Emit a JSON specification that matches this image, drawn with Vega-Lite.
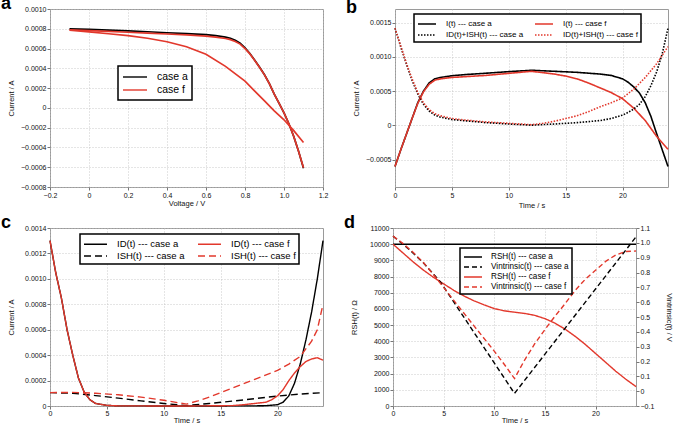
{
"$schema": "https://vega.github.io/schema/vega-lite/v6.json",
"padding": {"left": 0, "top": -6, "right": 0, "bottom": 0},
"background": "white",
"config": {
 "font": "Liberation Sans",
 "view": {"stroke": "#9a9a9a", "strokeWidth": 1},
 "axis": {"labelFont": "Liberation Sans", "titleFont": "Liberation Sans", "labelFontSize": 7, "titleFontSize": 7.5, "titleFontWeight": "normal", "tickSize": 3, "tickColor": "#777", "domain": false, "grid": true, "gridColor": "#bdbdbd", "gridDash": [1, 2], "gridWidth": 0.8, "labelColor": "#111", "titleColor": "#111", "labelPadding": 1, "labelFlush": false, "labelOverlap": false},
 "title": {"font": "Liberation Sans", "fontSize": 18, "fontWeight": "bold", "anchor": "start", "frame": "bounds", "baseline": "alphabetic", "offset": -8, "dx": -6, "color": "#000"},
 "legend": {"strokeColor": "#000", "strokeWidth": 1.5, "fillColor": "white", "padding": 4, "symbolStrokeWidth": 2, "labelFont": "Liberation Sans", "labelColor": "#000", "rowPadding": 1},
 "line": {"strokeWidth": 1.4}
},
"resolve": {"scale": {"color": "independent", "strokeDash": "independent", "x": "independent", "y": "independent"}, "legend": {"color": "independent", "strokeDash": "independent"}},
"spacing": 4,
"vconcat": [
{
 "spacing": 16,
 "resolve": {"scale": {"color": "independent", "strokeDash": "independent", "x": "independent", "y": "independent"}, "legend": {"color": "independent", "strokeDash": "independent"}},
 "hconcat": [
 {
  "title": "a",
  "width": 273, "height": 178,
  "data": {"values": [
   {"v": -0.1, "i": 0.000800, "s": "case a", "c": "a1"},
   {"v": 0.0, "i": 0.000793, "s": "case a", "c": "a1"},
   {"v": 0.1, "i": 0.000786, "s": "case a", "c": "a1"},
   {"v": 0.2, "i": 0.000778, "s": "case a", "c": "a1"},
   {"v": 0.3, "i": 0.000770, "s": "case a", "c": "a1"},
   {"v": 0.4, "i": 0.000760, "s": "case a", "c": "a1"},
   {"v": 0.5, "i": 0.000751, "s": "case a", "c": "a1"},
   {"v": 0.6, "i": 0.000740, "s": "case a", "c": "a1"},
   {"v": 0.65, "i": 0.000730, "s": "case a", "c": "a1"},
   {"v": 0.7, "i": 0.000716, "s": "case a", "c": "a1"},
   {"v": 0.725, "i": 0.000704, "s": "case a", "c": "a1"},
   {"v": 0.75, "i": 0.000685, "s": "case a", "c": "a1"},
   {"v": 0.775, "i": 0.000655, "s": "case a", "c": "a1"},
   {"v": 0.8, "i": 0.000608, "s": "case a", "c": "a1"},
   {"v": 0.825, "i": 0.000550, "s": "case a", "c": "a1"},
   {"v": 0.85, "i": 0.000482, "s": "case a", "c": "a1"},
   {"v": 0.875, "i": 0.000410, "s": "case a", "c": "a1"},
   {"v": 0.9, "i": 0.000335, "s": "case a", "c": "a1"},
   {"v": 0.925, "i": 0.000245, "s": "case a", "c": "a1"},
   {"v": 0.95, "i": 0.000140, "s": "case a", "c": "a1"},
   {"v": 0.975, "i": 0.000045, "s": "case a", "c": "a1"},
   {"v": 1.0, "i": -0.000050, "s": "case a", "c": "a1"},
   {"v": 1.025, "i": -0.000160, "s": "case a", "c": "a1"},
   {"v": 1.05, "i": -0.000290, "s": "case a", "c": "a1"},
   {"v": 1.075, "i": -0.000440, "s": "case a", "c": "a1"},
   {"v": 1.1, "i": -0.000610, "s": "case a", "c": "a1"},
   {"v": -0.1, "i": 0.000790, "s": "case f", "c": "f1"},
   {"v": 0.0, "i": 0.000781, "s": "case f", "c": "f1"},
   {"v": 0.1, "i": 0.000773, "s": "case f", "c": "f1"},
   {"v": 0.2, "i": 0.000765, "s": "case f", "c": "f1"},
   {"v": 0.3, "i": 0.000756, "s": "case f", "c": "f1"},
   {"v": 0.4, "i": 0.000747, "s": "case f", "c": "f1"},
   {"v": 0.5, "i": 0.000738, "s": "case f", "c": "f1"},
   {"v": 0.6, "i": 0.000726, "s": "case f", "c": "f1"},
   {"v": 0.65, "i": 0.000716, "s": "case f", "c": "f1"},
   {"v": 0.7, "i": 0.000702, "s": "case f", "c": "f1"},
   {"v": 0.725, "i": 0.000690, "s": "case f", "c": "f1"},
   {"v": 0.75, "i": 0.000672, "s": "case f", "c": "f1"},
   {"v": 0.775, "i": 0.000645, "s": "case f", "c": "f1"},
   {"v": 0.8, "i": 0.000600, "s": "case f", "c": "f1"},
   {"v": 0.825, "i": 0.000546, "s": "case f", "c": "f1"},
   {"v": 0.85, "i": 0.000480, "s": "case f", "c": "f1"},
   {"v": 0.875, "i": 0.000409, "s": "case f", "c": "f1"},
   {"v": 0.9, "i": 0.000334, "s": "case f", "c": "f1"},
   {"v": 0.925, "i": 0.000244, "s": "case f", "c": "f1"},
   {"v": 0.95, "i": 0.000140, "s": "case f", "c": "f1"},
   {"v": 0.975, "i": 0.000045, "s": "case f", "c": "f1"},
   {"v": 1.0, "i": -0.000050, "s": "case f", "c": "f1"},
   {"v": 1.025, "i": -0.000160, "s": "case f", "c": "f1"},
   {"v": 1.05, "i": -0.000290, "s": "case f", "c": "f1"},
   {"v": 1.075, "i": -0.000440, "s": "case f", "c": "f1"},
   {"v": 1.1, "i": -0.000605, "s": "case f", "c": "f1"},
   {"v": -0.1, "i": 0.000785, "s": "case f", "c": "f2"},
   {"v": 0.0, "i": 0.000768, "s": "case f", "c": "f2"},
   {"v": 0.1, "i": 0.000750, "s": "case f", "c": "f2"},
   {"v": 0.2, "i": 0.000731, "s": "case f", "c": "f2"},
   {"v": 0.3, "i": 0.000704, "s": "case f", "c": "f2"},
   {"v": 0.4, "i": 0.000669, "s": "case f", "c": "f2"},
   {"v": 0.5, "i": 0.000618, "s": "case f", "c": "f2"},
   {"v": 0.6, "i": 0.000542, "s": "case f", "c": "f2"},
   {"v": 0.7, "i": 0.000420, "s": "case f", "c": "f2"},
   {"v": 0.8, "i": 0.000270, "s": "case f", "c": "f2"},
   {"v": 0.85, "i": 0.000170, "s": "case f", "c": "f2"},
   {"v": 0.9, "i": 0.000070, "s": "case f", "c": "f2"},
   {"v": 0.95, "i": -0.000030, "s": "case f", "c": "f2"},
   {"v": 1.0, "i": -0.000120, "s": "case f", "c": "f2"},
   {"v": 1.05, "i": -0.000230, "s": "case f", "c": "f2"},
   {"v": 1.1, "i": -0.000350, "s": "case f", "c": "f2"}
  ]},
  "mark": {"type": "line", "strokeWidth": 1.7},
  "encoding": {
   "x": {"field": "v", "type": "quantitative", "scale": {"domain": [-0.2, 1.2], "nice": false, "zero": false}, "axis": {"title": "Voltage / V", "values": [-0.2, 0, 0.2, 0.4, 0.6, 0.8, 1.0, 1.2], "labelExpr": "abs(datum.value) < 1e-9 ? '0' : format(datum.value, '.1f')", "titlePadding": 1}},
   "y": {"field": "i", "type": "quantitative", "scale": {"domain": [-0.0008, 0.001], "nice": false, "zero": false}, "axis": {"title": "Current / A", "values": [-0.0008, -0.0006, -0.0004, -0.0002, 0, 0.0002, 0.0004, 0.0006, 0.0008, 0.001], "labelExpr": "abs(datum.value) < 1e-12 ? '0' : format(datum.value, '.4f')", "minExtent": 30, "maxExtent": 30, "titlePadding": 5}},
   "detail": {"field": "c"},
   "color": {"field": "s", "type": "nominal", "scale": {"domain": ["case a", "case f"], "range": ["#000000", "#e2382c"]}, "legend": {"title": null, "orient": "none", "legendX": 68, "legendY": 57, "labelFontSize": 10.5, "symbolType": "M-1,0H3", "symbolSize": 144, "symbolStrokeWidth": 2.5, "labelOffset": 21, "padding": 4, "rowPadding": 0}}
  }
 },
 {
  "title": "b",
  "width": 273, "height": 178,
  "data": {"values": [
   {"t": 0, "v": -0.0006, "s": "I(t) --- case a"},
   {"t": 0.5, "v": -0.00036, "s": "I(t) --- case a"},
   {"t": 1, "v": -0.00013, "s": "I(t) --- case a"},
   {"t": 1.5, "v": 0.0001, "s": "I(t) --- case a"},
   {"t": 2, "v": 0.00033, "s": "I(t) --- case a"},
   {"t": 2.5, "v": 0.0005, "s": "I(t) --- case a"},
   {"t": 3, "v": 0.00062, "s": "I(t) --- case a"},
   {"t": 3.5, "v": 0.00068, "s": "I(t) --- case a"},
   {"t": 4, "v": 0.0007, "s": "I(t) --- case a"},
   {"t": 5, "v": 0.000725, "s": "I(t) --- case a"},
   {"t": 6, "v": 0.00074, "s": "I(t) --- case a"},
   {"t": 8, "v": 0.000762, "s": "I(t) --- case a"},
   {"t": 10, "v": 0.000785, "s": "I(t) --- case a"},
   {"t": 12, "v": 0.000805, "s": "I(t) --- case a"},
   {"t": 14, "v": 0.00079, "s": "I(t) --- case a"},
   {"t": 16, "v": 0.000775, "s": "I(t) --- case a"},
   {"t": 18, "v": 0.00075, "s": "I(t) --- case a"},
   {"t": 19, "v": 0.00073, "s": "I(t) --- case a"},
   {"t": 20, "v": 0.00068, "s": "I(t) --- case a"},
   {"t": 20.5, "v": 0.00063, "s": "I(t) --- case a"},
   {"t": 21, "v": 0.00056, "s": "I(t) --- case a"},
   {"t": 21.5, "v": 0.00047, "s": "I(t) --- case a"},
   {"t": 22, "v": 0.00033, "s": "I(t) --- case a"},
   {"t": 22.5, "v": 0.00013, "s": "I(t) --- case a"},
   {"t": 23, "v": -0.00012, "s": "I(t) --- case a"},
   {"t": 23.5, "v": -0.00036, "s": "I(t) --- case a"},
   {"t": 24, "v": -0.0006, "s": "I(t) --- case a"},
   {"t": 0, "v": -0.0006, "s": "I(t) --- case f"},
   {"t": 0.5, "v": -0.00036, "s": "I(t) --- case f"},
   {"t": 1, "v": -0.00013, "s": "I(t) --- case f"},
   {"t": 1.5, "v": 0.0001, "s": "I(t) --- case f"},
   {"t": 2, "v": 0.00032, "s": "I(t) --- case f"},
   {"t": 2.5, "v": 0.00049, "s": "I(t) --- case f"},
   {"t": 3, "v": 0.0006, "s": "I(t) --- case f"},
   {"t": 3.5, "v": 0.00066, "s": "I(t) --- case f"},
   {"t": 4, "v": 0.00068, "s": "I(t) --- case f"},
   {"t": 5, "v": 0.0007, "s": "I(t) --- case f"},
   {"t": 6, "v": 0.00071, "s": "I(t) --- case f"},
   {"t": 8, "v": 0.00073, "s": "I(t) --- case f"},
   {"t": 10, "v": 0.00076, "s": "I(t) --- case f"},
   {"t": 12, "v": 0.00079, "s": "I(t) --- case f"},
   {"t": 13, "v": 0.00077, "s": "I(t) --- case f"},
   {"t": 14, "v": 0.00075, "s": "I(t) --- case f"},
   {"t": 15, "v": 0.00072, "s": "I(t) --- case f"},
   {"t": 16, "v": 0.00068, "s": "I(t) --- case f"},
   {"t": 17, "v": 0.00062, "s": "I(t) --- case f"},
   {"t": 18, "v": 0.00055, "s": "I(t) --- case f"},
   {"t": 19, "v": 0.00048, "s": "I(t) --- case f"},
   {"t": 20, "v": 0.00039, "s": "I(t) --- case f"},
   {"t": 21, "v": 0.00025, "s": "I(t) --- case f"},
   {"t": 22, "v": 0.00007, "s": "I(t) --- case f"},
   {"t": 23, "v": -0.00016, "s": "I(t) --- case f"},
   {"t": 24, "v": -0.00035, "s": "I(t) --- case f"},
   {"t": 0, "v": 0.00142, "s": "ID(t)+ISH(t) --- case a"},
   {"t": 0.5, "v": 0.00115, "s": "ID(t)+ISH(t) --- case a"},
   {"t": 1, "v": 0.0009, "s": "ID(t)+ISH(t) --- case a"},
   {"t": 1.5, "v": 0.00066, "s": "ID(t)+ISH(t) --- case a"},
   {"t": 2, "v": 0.00046, "s": "ID(t)+ISH(t) --- case a"},
   {"t": 2.5, "v": 0.00031, "s": "ID(t)+ISH(t) --- case a"},
   {"t": 3, "v": 0.00021, "s": "ID(t)+ISH(t) --- case a"},
   {"t": 3.5, "v": 0.00015, "s": "ID(t)+ISH(t) --- case a"},
   {"t": 4, "v": 0.00012, "s": "ID(t)+ISH(t) --- case a"},
   {"t": 5, "v": 0.000085, "s": "ID(t)+ISH(t) --- case a"},
   {"t": 6, "v": 0.00007, "s": "ID(t)+ISH(t) --- case a"},
   {"t": 8, "v": 0.00004, "s": "ID(t)+ISH(t) --- case a"},
   {"t": 10, "v": 0.00002, "s": "ID(t)+ISH(t) --- case a"},
   {"t": 12, "v": 0.000003, "s": "ID(t)+ISH(t) --- case a"},
   {"t": 14, "v": 0.00002, "s": "ID(t)+ISH(t) --- case a"},
   {"t": 16, "v": 0.00004, "s": "ID(t)+ISH(t) --- case a"},
   {"t": 18, "v": 0.00007, "s": "ID(t)+ISH(t) --- case a"},
   {"t": 19, "v": 0.0001, "s": "ID(t)+ISH(t) --- case a"},
   {"t": 20, "v": 0.00015, "s": "ID(t)+ISH(t) --- case a"},
   {"t": 20.5, "v": 0.00019, "s": "ID(t)+ISH(t) --- case a"},
   {"t": 21, "v": 0.00024, "s": "ID(t)+ISH(t) --- case a"},
   {"t": 21.5, "v": 0.00031, "s": "ID(t)+ISH(t) --- case a"},
   {"t": 22, "v": 0.00042, "s": "ID(t)+ISH(t) --- case a"},
   {"t": 22.5, "v": 0.00058, "s": "ID(t)+ISH(t) --- case a"},
   {"t": 23, "v": 0.00078, "s": "ID(t)+ISH(t) --- case a"},
   {"t": 23.5, "v": 0.00105, "s": "ID(t)+ISH(t) --- case a"},
   {"t": 24, "v": 0.00142, "s": "ID(t)+ISH(t) --- case a"},
   {"t": 0, "v": 0.00142, "s": "ID(t)+ISH(t) --- case f"},
   {"t": 0.5, "v": 0.00116, "s": "ID(t)+ISH(t) --- case f"},
   {"t": 1, "v": 0.00091, "s": "ID(t)+ISH(t) --- case f"},
   {"t": 1.5, "v": 0.00068, "s": "ID(t)+ISH(t) --- case f"},
   {"t": 2, "v": 0.00048, "s": "ID(t)+ISH(t) --- case f"},
   {"t": 2.5, "v": 0.00033, "s": "ID(t)+ISH(t) --- case f"},
   {"t": 3, "v": 0.00023, "s": "ID(t)+ISH(t) --- case f"},
   {"t": 3.5, "v": 0.00017, "s": "ID(t)+ISH(t) --- case f"},
   {"t": 4, "v": 0.00014, "s": "ID(t)+ISH(t) --- case f"},
   {"t": 5, "v": 0.0001, "s": "ID(t)+ISH(t) --- case f"},
   {"t": 6, "v": 0.00008, "s": "ID(t)+ISH(t) --- case f"},
   {"t": 8, "v": 0.00005, "s": "ID(t)+ISH(t) --- case f"},
   {"t": 10, "v": 0.00003, "s": "ID(t)+ISH(t) --- case f"},
   {"t": 12, "v": 0.00001, "s": "ID(t)+ISH(t) --- case f"},
   {"t": 13, "v": 0.00003, "s": "ID(t)+ISH(t) --- case f"},
   {"t": 14, "v": 0.00006, "s": "ID(t)+ISH(t) --- case f"},
   {"t": 15, "v": 0.0001, "s": "ID(t)+ISH(t) --- case f"},
   {"t": 16, "v": 0.00014, "s": "ID(t)+ISH(t) --- case f"},
   {"t": 17, "v": 0.0002, "s": "ID(t)+ISH(t) --- case f"},
   {"t": 18, "v": 0.00027, "s": "ID(t)+ISH(t) --- case f"},
   {"t": 19, "v": 0.00033, "s": "ID(t)+ISH(t) --- case f"},
   {"t": 20, "v": 0.0004, "s": "ID(t)+ISH(t) --- case f"},
   {"t": 21, "v": 0.00053, "s": "ID(t)+ISH(t) --- case f"},
   {"t": 22, "v": 0.0007, "s": "ID(t)+ISH(t) --- case f"},
   {"t": 23, "v": 0.0009, "s": "ID(t)+ISH(t) --- case f"},
   {"t": 24, "v": 0.00115, "s": "ID(t)+ISH(t) --- case f"}
  ]},
  "mark": {"type": "line", "strokeWidth": 1.6},
  "encoding": {
   "x": {"field": "t", "type": "quantitative", "scale": {"domain": [0, 24], "nice": false}, "axis": {"title": "Time / s", "values": [0, 5, 10, 15, 20], "titlePadding": 3}},
   "y": {"field": "v", "type": "quantitative", "scale": {"domain": [-0.0009, 0.0017], "nice": false, "zero": false}, "axis": {"title": "Current / A", "values": [-0.0005, 0, 0.0005, 0.001, 0.0015], "labelExpr": "abs(datum.value) < 1e-12 ? '0' : format(datum.value, '.4f')", "minExtent": 30, "maxExtent": 30, "titlePadding": 5}},
   "color": {"field": "s", "type": "nominal", "scale": {"domain": ["I(t) --- case a", "ID(t)+ISH(t) --- case a", "I(t) --- case f", "ID(t)+ISH(t) --- case f"], "range": ["#000000", "#000000", "#e2382c", "#e2382c"]}, "legend": {"title": null, "orient": "none", "legendX": 19, "legendY": 5, "columns": 2, "labelFontSize": 8, "symbolType": "M-1,0H2", "symbolSize": 144, "labelOffset": 15, "columnPadding": 8, "padding": 3, "rowPadding": 0}},
   "strokeDash": {"field": "s", "type": "nominal", "scale": {"domain": ["I(t) --- case a", "ID(t)+ISH(t) --- case a", "I(t) --- case f", "ID(t)+ISH(t) --- case f"], "range": [[1, 0], [1.5, 1.5], [1, 0], [1.5, 1.5]]}, "legend": {"title": null, "orient": "none", "legendX": 19, "legendY": 5, "columns": 2, "labelFontSize": 8, "symbolType": "M-1,0H2", "symbolSize": 144, "labelOffset": 15, "columnPadding": 8, "padding": 3, "rowPadding": 0}}
  }
 }
 ]
},
{
 "spacing": 16,
 "resolve": {"scale": {"color": "independent", "strokeDash": "independent", "x": "independent", "y": "independent"}, "legend": {"color": "independent", "strokeDash": "independent"}},
 "hconcat": [
 {
  "title": "c",
  "width": 273, "height": 178,
  "data": {"values": [
   {"t": 0, "v": 0.0013, "s": "ID(t) --- case a"},
   {"t": 0.5, "v": 0.00105, "s": "ID(t) --- case a"},
   {"t": 1, "v": 0.00085, "s": "ID(t) --- case a"},
   {"t": 1.5, "v": 0.0006, "s": "ID(t) --- case a"},
   {"t": 2, "v": 0.0004, "s": "ID(t) --- case a"},
   {"t": 2.5, "v": 0.00022, "s": "ID(t) --- case a"},
   {"t": 3, "v": 0.00011, "s": "ID(t) --- case a"},
   {"t": 3.5, "v": 0.00005, "s": "ID(t) --- case a"},
   {"t": 4, "v": 0.00002, "s": "ID(t) --- case a"},
   {"t": 5, "v": 0.000005, "s": "ID(t) --- case a"},
   {"t": 6, "v": 0.000001, "s": "ID(t) --- case a"},
   {"t": 12, "v": 0, "s": "ID(t) --- case a"},
   {"t": 18, "v": 0.000001, "s": "ID(t) --- case a"},
   {"t": 19, "v": 0.000003, "s": "ID(t) --- case a"},
   {"t": 20, "v": 0.00001, "s": "ID(t) --- case a"},
   {"t": 20.5, "v": 0.00003, "s": "ID(t) --- case a"},
   {"t": 21, "v": 0.00008, "s": "ID(t) --- case a"},
   {"t": 21.5, "v": 0.00018, "s": "ID(t) --- case a"},
   {"t": 22, "v": 0.00033, "s": "ID(t) --- case a"},
   {"t": 22.5, "v": 0.00052, "s": "ID(t) --- case a"},
   {"t": 23, "v": 0.00074, "s": "ID(t) --- case a"},
   {"t": 23.5, "v": 0.001, "s": "ID(t) --- case a"},
   {"t": 24, "v": 0.0013, "s": "ID(t) --- case a"},
   {"t": 0, "v": 0.000105, "s": "ISH(t) --- case a"},
   {"t": 2, "v": 0.0001, "s": "ISH(t) --- case a"},
   {"t": 4, "v": 0.000082, "s": "ISH(t) --- case a"},
   {"t": 6, "v": 0.000062, "s": "ISH(t) --- case a"},
   {"t": 8, "v": 0.00004, "s": "ISH(t) --- case a"},
   {"t": 10, "v": 0.00002, "s": "ISH(t) --- case a"},
   {"t": 12, "v": 0.000003, "s": "ISH(t) --- case a"},
   {"t": 14, "v": 0.00002, "s": "ISH(t) --- case a"},
   {"t": 16, "v": 0.000038, "s": "ISH(t) --- case a"},
   {"t": 18, "v": 0.000058, "s": "ISH(t) --- case a"},
   {"t": 20, "v": 0.000078, "s": "ISH(t) --- case a"},
   {"t": 22, "v": 0.000094, "s": "ISH(t) --- case a"},
   {"t": 24, "v": 0.000105, "s": "ISH(t) --- case a"},
   {"t": 0, "v": 0.0013, "s": "ID(t) --- case f"},
   {"t": 0.5, "v": 0.00105, "s": "ID(t) --- case f"},
   {"t": 1, "v": 0.00085, "s": "ID(t) --- case f"},
   {"t": 1.5, "v": 0.0006, "s": "ID(t) --- case f"},
   {"t": 2, "v": 0.0004, "s": "ID(t) --- case f"},
   {"t": 2.5, "v": 0.00022, "s": "ID(t) --- case f"},
   {"t": 3, "v": 0.00011, "s": "ID(t) --- case f"},
   {"t": 3.5, "v": 0.00005, "s": "ID(t) --- case f"},
   {"t": 4, "v": 0.00002, "s": "ID(t) --- case f"},
   {"t": 5, "v": 0.000005, "s": "ID(t) --- case f"},
   {"t": 6, "v": 0.000001, "s": "ID(t) --- case f"},
   {"t": 12, "v": 0, "s": "ID(t) --- case f"},
   {"t": 16, "v": 0.000003, "s": "ID(t) --- case f"},
   {"t": 17, "v": 0.00001, "s": "ID(t) --- case f"},
   {"t": 18, "v": 0.00002, "s": "ID(t) --- case f"},
   {"t": 19, "v": 0.00003, "s": "ID(t) --- case f"},
   {"t": 19.5, "v": 0.00005, "s": "ID(t) --- case f"},
   {"t": 20, "v": 0.00008, "s": "ID(t) --- case f"},
   {"t": 20.5, "v": 0.00013, "s": "ID(t) --- case f"},
   {"t": 21, "v": 0.0002, "s": "ID(t) --- case f"},
   {"t": 21.5, "v": 0.00026, "s": "ID(t) --- case f"},
   {"t": 22, "v": 0.00031, "s": "ID(t) --- case f"},
   {"t": 22.5, "v": 0.00035, "s": "ID(t) --- case f"},
   {"t": 23, "v": 0.00037, "s": "ID(t) --- case f"},
   {"t": 23.5, "v": 0.00038, "s": "ID(t) --- case f"},
   {"t": 24, "v": 0.00036, "s": "ID(t) --- case f"},
   {"t": 0, "v": 0.000105, "s": "ISH(t) --- case f"},
   {"t": 2, "v": 0.000107, "s": "ISH(t) --- case f"},
   {"t": 4, "v": 0.0001, "s": "ISH(t) --- case f"},
   {"t": 6, "v": 0.000088, "s": "ISH(t) --- case f"},
   {"t": 8, "v": 0.00007, "s": "ISH(t) --- case f"},
   {"t": 10, "v": 0.000045, "s": "ISH(t) --- case f"},
   {"t": 12, "v": 0.000015, "s": "ISH(t) --- case f"},
   {"t": 13, "v": 0.00004, "s": "ISH(t) --- case f"},
   {"t": 14, "v": 0.00007, "s": "ISH(t) --- case f"},
   {"t": 15, "v": 0.000105, "s": "ISH(t) --- case f"},
   {"t": 16, "v": 0.00014, "s": "ISH(t) --- case f"},
   {"t": 17, "v": 0.000175, "s": "ISH(t) --- case f"},
   {"t": 18, "v": 0.00021, "s": "ISH(t) --- case f"},
   {"t": 19, "v": 0.000245, "s": "ISH(t) --- case f"},
   {"t": 20, "v": 0.00028, "s": "ISH(t) --- case f"},
   {"t": 21, "v": 0.00033, "s": "ISH(t) --- case f"},
   {"t": 22, "v": 0.00039, "s": "ISH(t) --- case f"},
   {"t": 23, "v": 0.00051, "s": "ISH(t) --- case f"},
   {"t": 23.5, "v": 0.0006, "s": "ISH(t) --- case f"},
   {"t": 24, "v": 0.0008, "s": "ISH(t) --- case f"}
  ]},
  "mark": {"type": "line", "strokeWidth": 1.4},
  "encoding": {
   "x": {"field": "t", "type": "quantitative", "scale": {"domain": [0, 24], "nice": false}, "axis": {"title": "Time / s", "values": [0, 5, 10, 15, 20], "labelPadding": 0, "titlePadding": 0}},
   "y": {"field": "v", "type": "quantitative", "scale": {"domain": [0, 0.0014], "nice": false}, "axis": {"title": "Current / A", "values": [0, 0.0002, 0.0004, 0.0006, 0.0008, 0.001, 0.0012, 0.0014], "labelExpr": "abs(datum.value) < 1e-12 ? '0' : format(datum.value, '.4f')", "minExtent": 30, "maxExtent": 30, "titlePadding": 5}},
   "color": {"field": "s", "type": "nominal", "scale": {"domain": ["ID(t) --- case a", "ISH(t) --- case a", "ID(t) --- case f", "ISH(t) --- case f"], "range": ["#000000", "#000000", "#e2382c", "#e2382c"]}, "legend": {"title": null, "orient": "none", "legendX": 30, "legendY": 6, "columns": 2, "labelFontSize": 9.5, "symbolType": "M-1,0H2.83", "symbolSize": 144, "labelOffset": 20, "columnPadding": 10, "padding": 3, "rowPadding": 0}},
   "strokeDash": {"field": "s", "type": "nominal", "scale": {"domain": ["ID(t) --- case a", "ISH(t) --- case a", "ID(t) --- case f", "ISH(t) --- case f"], "range": [[1, 0], [7, 4], [1, 0], [7, 4]]}, "legend": {"title": null, "orient": "none", "legendX": 30, "legendY": 6, "columns": 2, "labelFontSize": 9.5, "symbolType": "M-1,0H2.83", "symbolSize": 144, "labelOffset": 20, "columnPadding": 10, "padding": 3, "rowPadding": 0}}
  }
 },
 {
  "title": "d",
  "width": 243, "height": 178,
  "resolve": {"scale": {"y": "independent"}},
  "encoding": {
   "x": {"field": "t", "type": "quantitative", "scale": {"domain": [0, 24], "nice": false}, "axis": {"title": "Time / s", "values": [0, 5, 10, 15, 20], "labelPadding": 0, "titlePadding": 0}},
   "color": {"field": "s", "type": "nominal", "scale": {"domain": ["RSH(t) --- case a", "Vintrinsic(t) --- case a", "RSH(t) --- case f", "Vintrinsic(t) --- case f"], "range": ["#000000", "#000000", "#e2382c", "#e2382c"]}, "legend": {"title": null, "orient": "none", "legendX": 67, "legendY": 20, "labelFontSize": 8.2, "symbolType": "M-1,0H2.6", "symbolSize": 100, "labelOffset": 16, "padding": 3, "rowPadding": 0}},
   "strokeDash": {"field": "s", "type": "nominal", "scale": {"domain": ["RSH(t) --- case a", "Vintrinsic(t) --- case a", "RSH(t) --- case f", "Vintrinsic(t) --- case f"], "range": [[1, 0], [5, 3], [1, 0], [5, 3]]}, "legend": {"title": null, "orient": "none", "legendX": 67, "legendY": 20, "labelFontSize": 8.2, "symbolType": "M-1,0H2.6", "symbolSize": 100, "labelOffset": 16, "padding": 3, "rowPadding": 0}}
  },
  "layer": [
   {
    "data": {"values": [
     {"t": 0, "r": 10000, "s": "RSH(t) --- case a"},
     {"t": 24, "r": 10000, "s": "RSH(t) --- case a"},
     {"t": 0, "r": 10000, "s": "RSH(t) --- case f"},
     {"t": 1, "r": 9450, "s": "RSH(t) --- case f"},
     {"t": 2, "r": 8900, "s": "RSH(t) --- case f"},
     {"t": 3, "r": 8400, "s": "RSH(t) --- case f"},
     {"t": 4, "r": 7950, "s": "RSH(t) --- case f"},
     {"t": 5, "r": 7550, "s": "RSH(t) --- case f"},
     {"t": 6, "r": 7150, "s": "RSH(t) --- case f"},
     {"t": 7, "r": 6800, "s": "RSH(t) --- case f"},
     {"t": 8, "r": 6500, "s": "RSH(t) --- case f"},
     {"t": 9, "r": 6250, "s": "RSH(t) --- case f"},
     {"t": 10, "r": 6020, "s": "RSH(t) --- case f"},
     {"t": 11, "r": 5880, "s": "RSH(t) --- case f"},
     {"t": 12, "r": 5800, "s": "RSH(t) --- case f"},
     {"t": 13, "r": 5720, "s": "RSH(t) --- case f"},
     {"t": 14, "r": 5600, "s": "RSH(t) --- case f"},
     {"t": 15, "r": 5400, "s": "RSH(t) --- case f"},
     {"t": 16, "r": 5120, "s": "RSH(t) --- case f"},
     {"t": 17, "r": 4750, "s": "RSH(t) --- case f"},
     {"t": 18, "r": 4300, "s": "RSH(t) --- case f"},
     {"t": 19, "r": 3800, "s": "RSH(t) --- case f"},
     {"t": 20, "r": 3250, "s": "RSH(t) --- case f"},
     {"t": 21, "r": 2700, "s": "RSH(t) --- case f"},
     {"t": 22, "r": 2150, "s": "RSH(t) --- case f"},
     {"t": 23, "r": 1650, "s": "RSH(t) --- case f"},
     {"t": 24, "r": 1200, "s": "RSH(t) --- case f"}
    ]},
    "mark": {"type": "line", "strokeWidth": 1.4},
    "encoding": {
     "y": {"field": "r", "type": "quantitative", "scale": {"domain": [0, 11000], "nice": false}, "axis": {"title": "RSH(t) / Ω", "values": [0, 1000, 2000, 3000, 4000, 5000, 6000, 7000, 8000, 9000, 10000, 11000], "format": "d", "minExtent": 30, "maxExtent": 30, "titlePadding": 5}}
    }
   },
   {
    "data": {"values": [
     {"t": 0, "y": 1.045, "s": "Vintrinsic(t) --- case a"},
     {"t": 1, "y": 0.99, "s": "Vintrinsic(t) --- case a"},
     {"t": 2, "y": 0.93, "s": "Vintrinsic(t) --- case a"},
     {"t": 3, "y": 0.865, "s": "Vintrinsic(t) --- case a"},
     {"t": 4, "y": 0.79, "s": "Vintrinsic(t) --- case a"},
     {"t": 4.7, "y": 0.735, "s": "Vintrinsic(t) --- case a"},
     {"t": 12, "y": -0.015, "s": "Vintrinsic(t) --- case a"},
     {"t": 24, "y": 1.04, "s": "Vintrinsic(t) --- case a"},
     {"t": 0, "y": 1.045, "s": "Vintrinsic(t) --- case f"},
     {"t": 1, "y": 0.995, "s": "Vintrinsic(t) --- case f"},
     {"t": 2, "y": 0.935, "s": "Vintrinsic(t) --- case f"},
     {"t": 3, "y": 0.867, "s": "Vintrinsic(t) --- case f"},
     {"t": 4, "y": 0.785, "s": "Vintrinsic(t) --- case f"},
     {"t": 5, "y": 0.7, "s": "Vintrinsic(t) --- case f"},
     {"t": 6, "y": 0.612, "s": "Vintrinsic(t) --- case f"},
     {"t": 8, "y": 0.44, "s": "Vintrinsic(t) --- case f"},
     {"t": 10, "y": 0.27, "s": "Vintrinsic(t) --- case f"},
     {"t": 11, "y": 0.18, "s": "Vintrinsic(t) --- case f"},
     {"t": 12, "y": 0.085, "s": "Vintrinsic(t) --- case f"},
     {"t": 13, "y": 0.21, "s": "Vintrinsic(t) --- case f"},
     {"t": 14, "y": 0.32, "s": "Vintrinsic(t) --- case f"},
     {"t": 15, "y": 0.415, "s": "Vintrinsic(t) --- case f"},
     {"t": 16, "y": 0.505, "s": "Vintrinsic(t) --- case f"},
     {"t": 17, "y": 0.59, "s": "Vintrinsic(t) --- case f"},
     {"t": 18, "y": 0.68, "s": "Vintrinsic(t) --- case f"},
     {"t": 19, "y": 0.755, "s": "Vintrinsic(t) --- case f"},
     {"t": 20, "y": 0.815, "s": "Vintrinsic(t) --- case f"},
     {"t": 21, "y": 0.875, "s": "Vintrinsic(t) --- case f"},
     {"t": 22, "y": 0.918, "s": "Vintrinsic(t) --- case f"},
     {"t": 23, "y": 0.942, "s": "Vintrinsic(t) --- case f"},
     {"t": 24, "y": 0.945, "s": "Vintrinsic(t) --- case f"}
    ]},
    "mark": {"type": "line", "strokeWidth": 1.4},
    "encoding": {
     "y": {"field": "y", "type": "quantitative", "scale": {"domain": [-0.1, 1.1], "nice": false, "zero": false}, "axis": {"orient": "right", "grid": false, "title": "Vintrinsic(t) / V", "values": [-0.1, 0, 0.1, 0.2, 0.3, 0.4, 0.5, 0.6, 0.7, 0.8, 0.9, 1.0, 1.1], "labelExpr": "abs(datum.value) < 1e-9 ? '0' : format(datum.value, '.1f')", "minExtent": 20, "maxExtent": 20, "titlePadding": 8}}
    }
   }
  ]
 }
 ]
}
]
}
